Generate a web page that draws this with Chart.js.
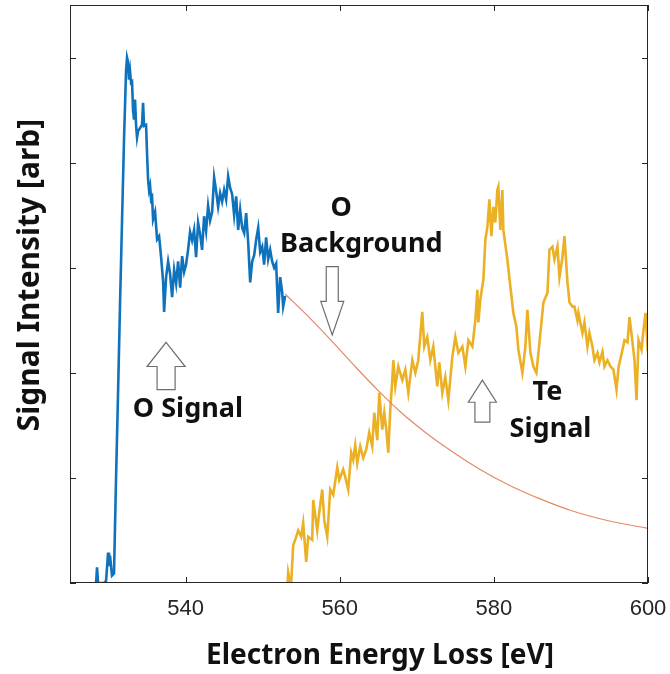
<!DOCTYPE html>
<html>
<head>
<meta charset="utf-8">
<script src="https://cdn.jsdelivr.net/npm/chart.js@4.4.1/dist/chart.umd.min.js"></script>
<style>
html,body{margin:0;padding:0;background:#fff;}
</style>
</head>
<body>
<canvas id="c" width="670" height="674"></canvas>
<script>
// O K-edge spectrum (blue)
var oEnergy = [528.12,528.38,528.51,528.64,529.42,529.68,529.94,530.06,530.19,530.45,530.71,530.97,531.23,531.49,531.75,532.01,532.27,532.40,
  532.53,532.66,532.79,532.92,533.05,533.18,533.31,533.44,533.57,533.70,533.83,534.09,534.35,534.48,534.61,534.87,535.00,
  535.13,535.26,535.39,535.52,535.65,535.78,536.04,536.30,536.56,536.82,537.08,537.21,537.47,537.73,537.99,538.25,538.51,
  538.77,539.03,539.29,539.55,539.81,540.06,540.32,540.58,540.84,541.10,541.36,541.62,541.88,542.14,542.40,542.66,542.92,
  543.18,543.44,543.70,543.96,544.22,544.48,544.74,545.00,545.26,545.52,545.78,546.04,546.30,546.56,546.82,547.08,547.34,
  547.60,547.86,548.12,548.38,548.64,548.90,549.16,549.42,549.68,549.94,550.19,550.45,550.71,550.97,551.23,551.49,551.75,
  552.01,552.27,552.53,552.66,552.92];
var oSignal = [-0.09,0.00,0.15,0.00,0.00,0.02,0.29,0.16,0.26,0.07,0.09,0.98,1.79,2.65,3.44,4.22,4.87,5.00,
  4.96,4.79,4.87,4.76,4.77,4.50,4.41,4.60,4.36,4.24,4.30,4.33,4.36,4.57,4.35,4.36,4.08,
  3.84,3.74,3.78,3.65,3.67,3.46,3.53,3.27,3.30,3.10,2.87,2.58,2.91,3.06,2.94,2.72,2.98,
  2.85,3.06,2.81,3.11,2.96,3.03,3.17,3.34,3.26,3.36,3.10,3.43,3.32,3.17,3.49,3.35,3.59,
  3.45,3.53,3.86,3.73,3.58,3.71,3.63,3.74,3.65,3.87,3.76,3.70,3.50,3.68,3.36,3.55,3.38,
  3.33,3.52,3.24,2.86,3.06,3.12,3.27,3.38,3.15,3.20,3.03,3.29,3.08,3.17,3.06,3.00,3.04,
  2.57,2.91,2.77,2.63,2.73];

// extrapolated O background (red)
var bgEnergy = [552.92,556.0,559.0,562.0,565.0,568.0,571.0,574.0,578.0,582.0,586.0,590.0,595.0,600.0];
var bgSignal = [2.75,2.53,2.30,2.06,1.83,1.62,1.44,1.28,1.09,0.93,0.80,0.69,0.59,0.52];

// Te M-edge spectrum (yellow)
var teEnergy = [553.18,553.31,553.57,553.70,553.96,554.22,554.61,555.00,555.26,555.65,555.91,556.43,556.56,557.08,557.34,557.73,557.99,
  558.38,558.77,559.16,559.68,559.94,560.45,560.71,561.10,561.49,561.75,562.01,562.27,562.66,563.05,563.44,563.83,564.22,
  564.48,564.87,565.13,565.52,565.78,566.04,566.30,566.56,566.82,566.95,567.21,567.60,568.12,568.51,568.90,569.42,569.81,
  570.19,570.71,570.97,571.36,571.75,572.14,572.66,572.92,573.31,573.70,574.09,574.61,575.00,575.39,575.91,576.30,576.69,
  577.21,577.60,577.86,577.99,578.25,578.64,578.90,579.16,579.42,579.68,579.94,580.19,580.45,580.58,580.84,581.10,581.23,
  581.75,582.14,582.53,582.92,583.18,583.70,584.09,584.35,584.74,585.13,585.52,586.04,586.43,586.95,587.21,587.60,587.86,
  588.25,588.51,588.90,589.16,589.55,589.81,590.19,590.45,590.84,590.97,591.49,591.75,592.14,592.40,592.79,593.05,593.44,
  593.70,594.09,594.35,594.74,595.13,595.52,595.91,596.17,596.69,596.95,597.34,597.60,597.99,598.25,598.51,598.77,599.16,
  599.42,599.68,599.94,600.32];
var teSignal = [-0.07,0.10,0.00,0.00,0.36,0.41,0.50,0.44,0.57,0.20,0.44,0.41,0.79,0.50,0.67,0.89,0.60,
  0.44,0.89,0.84,1.10,0.98,1.08,1.01,0.89,1.24,1.17,1.31,1.14,1.30,1.19,1.27,1.43,1.30,
  1.62,1.36,1.81,1.46,1.62,1.46,1.24,1.65,1.93,2.12,1.87,2.06,1.93,2.03,1.81,2.12,2.00,
  2.12,2.58,2.25,2.34,2.12,2.25,1.87,2.10,1.81,1.96,1.74,2.15,2.34,2.19,2.25,2.06,2.31,
  2.25,2.50,2.79,2.48,2.70,2.89,3.27,3.39,3.65,3.30,3.58,3.43,3.74,3.77,3.36,3.74,3.36,
  3.08,2.82,2.57,2.44,2.22,2.00,2.25,2.60,2.19,2.06,2.00,2.38,2.67,2.76,3.17,3.20,3.08,
  3.20,2.91,3.10,3.30,2.86,2.67,2.63,2.63,2.50,2.57,2.38,2.48,2.25,2.38,2.25,2.12,2.19,
  2.10,2.20,2.06,2.12,2.06,2.03,1.84,2.05,2.22,2.31,2.29,2.53,2.29,2.12,1.74,2.31,
  2.22,2.41,2.57,2.25,2.31];

var xTicks = [540, 560, 580, 600];
var yTicks = [0, 1, 2, 3, 4, 5];

// text labels placed in data units: [text, eV, intensity]
var labels = [
  ['O Signal', 540.3, 1.65],
  ['O', 560.2, 3.57],
  ['Background', 562.8, 3.22],
  ['Te', 586.95, 1.81],
  ['Signal', 587.35, 1.46]
];
// hollow arrows: [eV, tipY, baseY, tailY, headHalfWidth(eV), shaftHalfWidth(eV)]
var arrows = [
  [537.47, 2.29, 2.06, 1.84, 2.47, 1.17],
  [559.03, 2.36, 2.68, 3.01, 1.49, 0.78],
  [578.51, 1.93, 1.72, 1.53, 1.82, 0.97]
];

function pts(xs, ys){
    return xs.map(function(x, i){ return {x: x, y: ys[i]}; });
}

var axisColor = '#262626';
var labelFont = '"Noto Sans", "DejaVu Sans", sans-serif';

var decorPlugin = {
    id: 'decor',
    afterDatasetsDraw: function(chart){
        var ctx = chart.ctx;
        var a = chart.chartArea;
        var xs = chart.scales.x, ys = chart.scales.y;
        ctx.save();
        // frame and inward ticks
        ctx.strokeStyle = axisColor;
        ctx.lineWidth = 1;
        ctx.strokeRect(a.left + 0.5, a.top + 0.5, a.right - a.left - 1, a.bottom - a.top - 1);
        ctx.beginPath();
        xTicks.forEach(function(v){
            var px = Math.round(xs.getPixelForValue(v)) + 0.5;
            ctx.moveTo(px, a.bottom); ctx.lineTo(px, a.bottom - 6);
            ctx.moveTo(px, a.top); ctx.lineTo(px, a.top + 6);
        });
        yTicks.forEach(function(v){
            var py = Math.round(ys.getPixelForValue(v)) + 0.5;
            ctx.moveTo(a.left, py); ctx.lineTo(a.left + 6, py);
            ctx.moveTo(a.right, py); ctx.lineTo(a.right - 6, py);
        });
        ctx.stroke();

        // arrows
        ctx.strokeStyle = '#6e6e6e';
        ctx.fillStyle = '#ffffff';
        ctx.lineWidth = 1.2;
        arrows.forEach(function(ar){
            var cx = xs.getPixelForValue(ar[0]);
            var tip = ys.getPixelForValue(ar[1]);
            var base = ys.getPixelForValue(ar[2]);
            var tail = ys.getPixelForValue(ar[3]);
            var hw = xs.getPixelForValue(ar[0] + ar[4]) - cx;
            var sw = xs.getPixelForValue(ar[0] + ar[5]) - cx;
            ctx.beginPath();
            ctx.moveTo(cx, tip);
            ctx.lineTo(cx + hw, base);
            ctx.lineTo(cx + sw, base);
            ctx.lineTo(cx + sw, tail);
            ctx.lineTo(cx - sw, tail);
            ctx.lineTo(cx - sw, base);
            ctx.lineTo(cx - hw, base);
            ctx.closePath();
            ctx.fill();
            ctx.stroke();
        });

        // text labels
        ctx.fillStyle = '#111111';
        ctx.font = 'bold 27px ' + labelFont;
        ctx.textAlign = 'center';
        ctx.textBaseline = 'middle';
        labels.forEach(function(l){
            ctx.fillText(l[0], xs.getPixelForValue(l[1]), ys.getPixelForValue(l[2]));
        });

        // axis titles
        ctx.font = 'bold 28px ' + labelFont;
        ctx.fillText('Electron Energy Loss [eV]', 380, 656);
        ctx.font = 'bold 30px ' + labelFont;
        ctx.translate(30, 275);
        ctx.rotate(-Math.PI / 2);
        ctx.fillText('Signal Intensity [arb]', 0, 0);
        ctx.restore();
    }
};

new Chart(document.getElementById('c'), {
    type: 'line',
    data: {
        datasets: [
            {
                label: 'O',
                data: pts(oEnergy, oSignal),
                borderColor: '#0f72bd',
                borderWidth: 2.6,
                pointRadius: 0,
                tension: 0
            },
            {
                label: 'O background',
                data: pts(bgEnergy, bgSignal),
                borderColor: '#e38a63',
                borderWidth: 1.2,
                pointRadius: 0,
                cubicInterpolationMode: 'monotone'
            },
            {
                label: 'Te',
                data: pts(teEnergy, teSignal),
                borderColor: '#ebb024',
                borderWidth: 2.6,
                pointRadius: 0,
                tension: 0
            }
        ]
    },
    options: {
        responsive: false,
        animation: false,
        devicePixelRatio: 1,
        layout: { padding: { left: 0, right: 22, top: 5, bottom: 0 } },
        plugins: {
            legend: { display: false },
            tooltip: { enabled: false }
        },
        scales: {
            x: {
                type: 'linear',
                min: 525,
                max: 600,
                afterBuildTicks: function(s){ s.ticks = xTicks.map(function(v){ return {value: v}; }); },
                afterFit: function(s){ s.height = 91; s.paddingLeft = 0; s.paddingRight = 0; },
                grid: { display: false, drawTicks: false },
                border: { display: false },
                ticks: {
                    padding: 13,
                    maxRotation: 0,
                    autoSkip: false,
                    color: '#262626',
                    font: { family: '"Liberation Sans", Arial, sans-serif', size: 22 }
                }
            },
            y: {
                min: 0,
                max: 5.5,
                afterBuildTicks: function(s){ s.ticks = yTicks.map(function(v){ return {value: v}; }); },
                afterFit: function(s){ s.width = 70; },
                grid: { display: false, drawTicks: false },
                border: { display: false },
                ticks: { display: false }
            }
        }
    },
    plugins: [decorPlugin]
});
</script>
</body>
</html>
